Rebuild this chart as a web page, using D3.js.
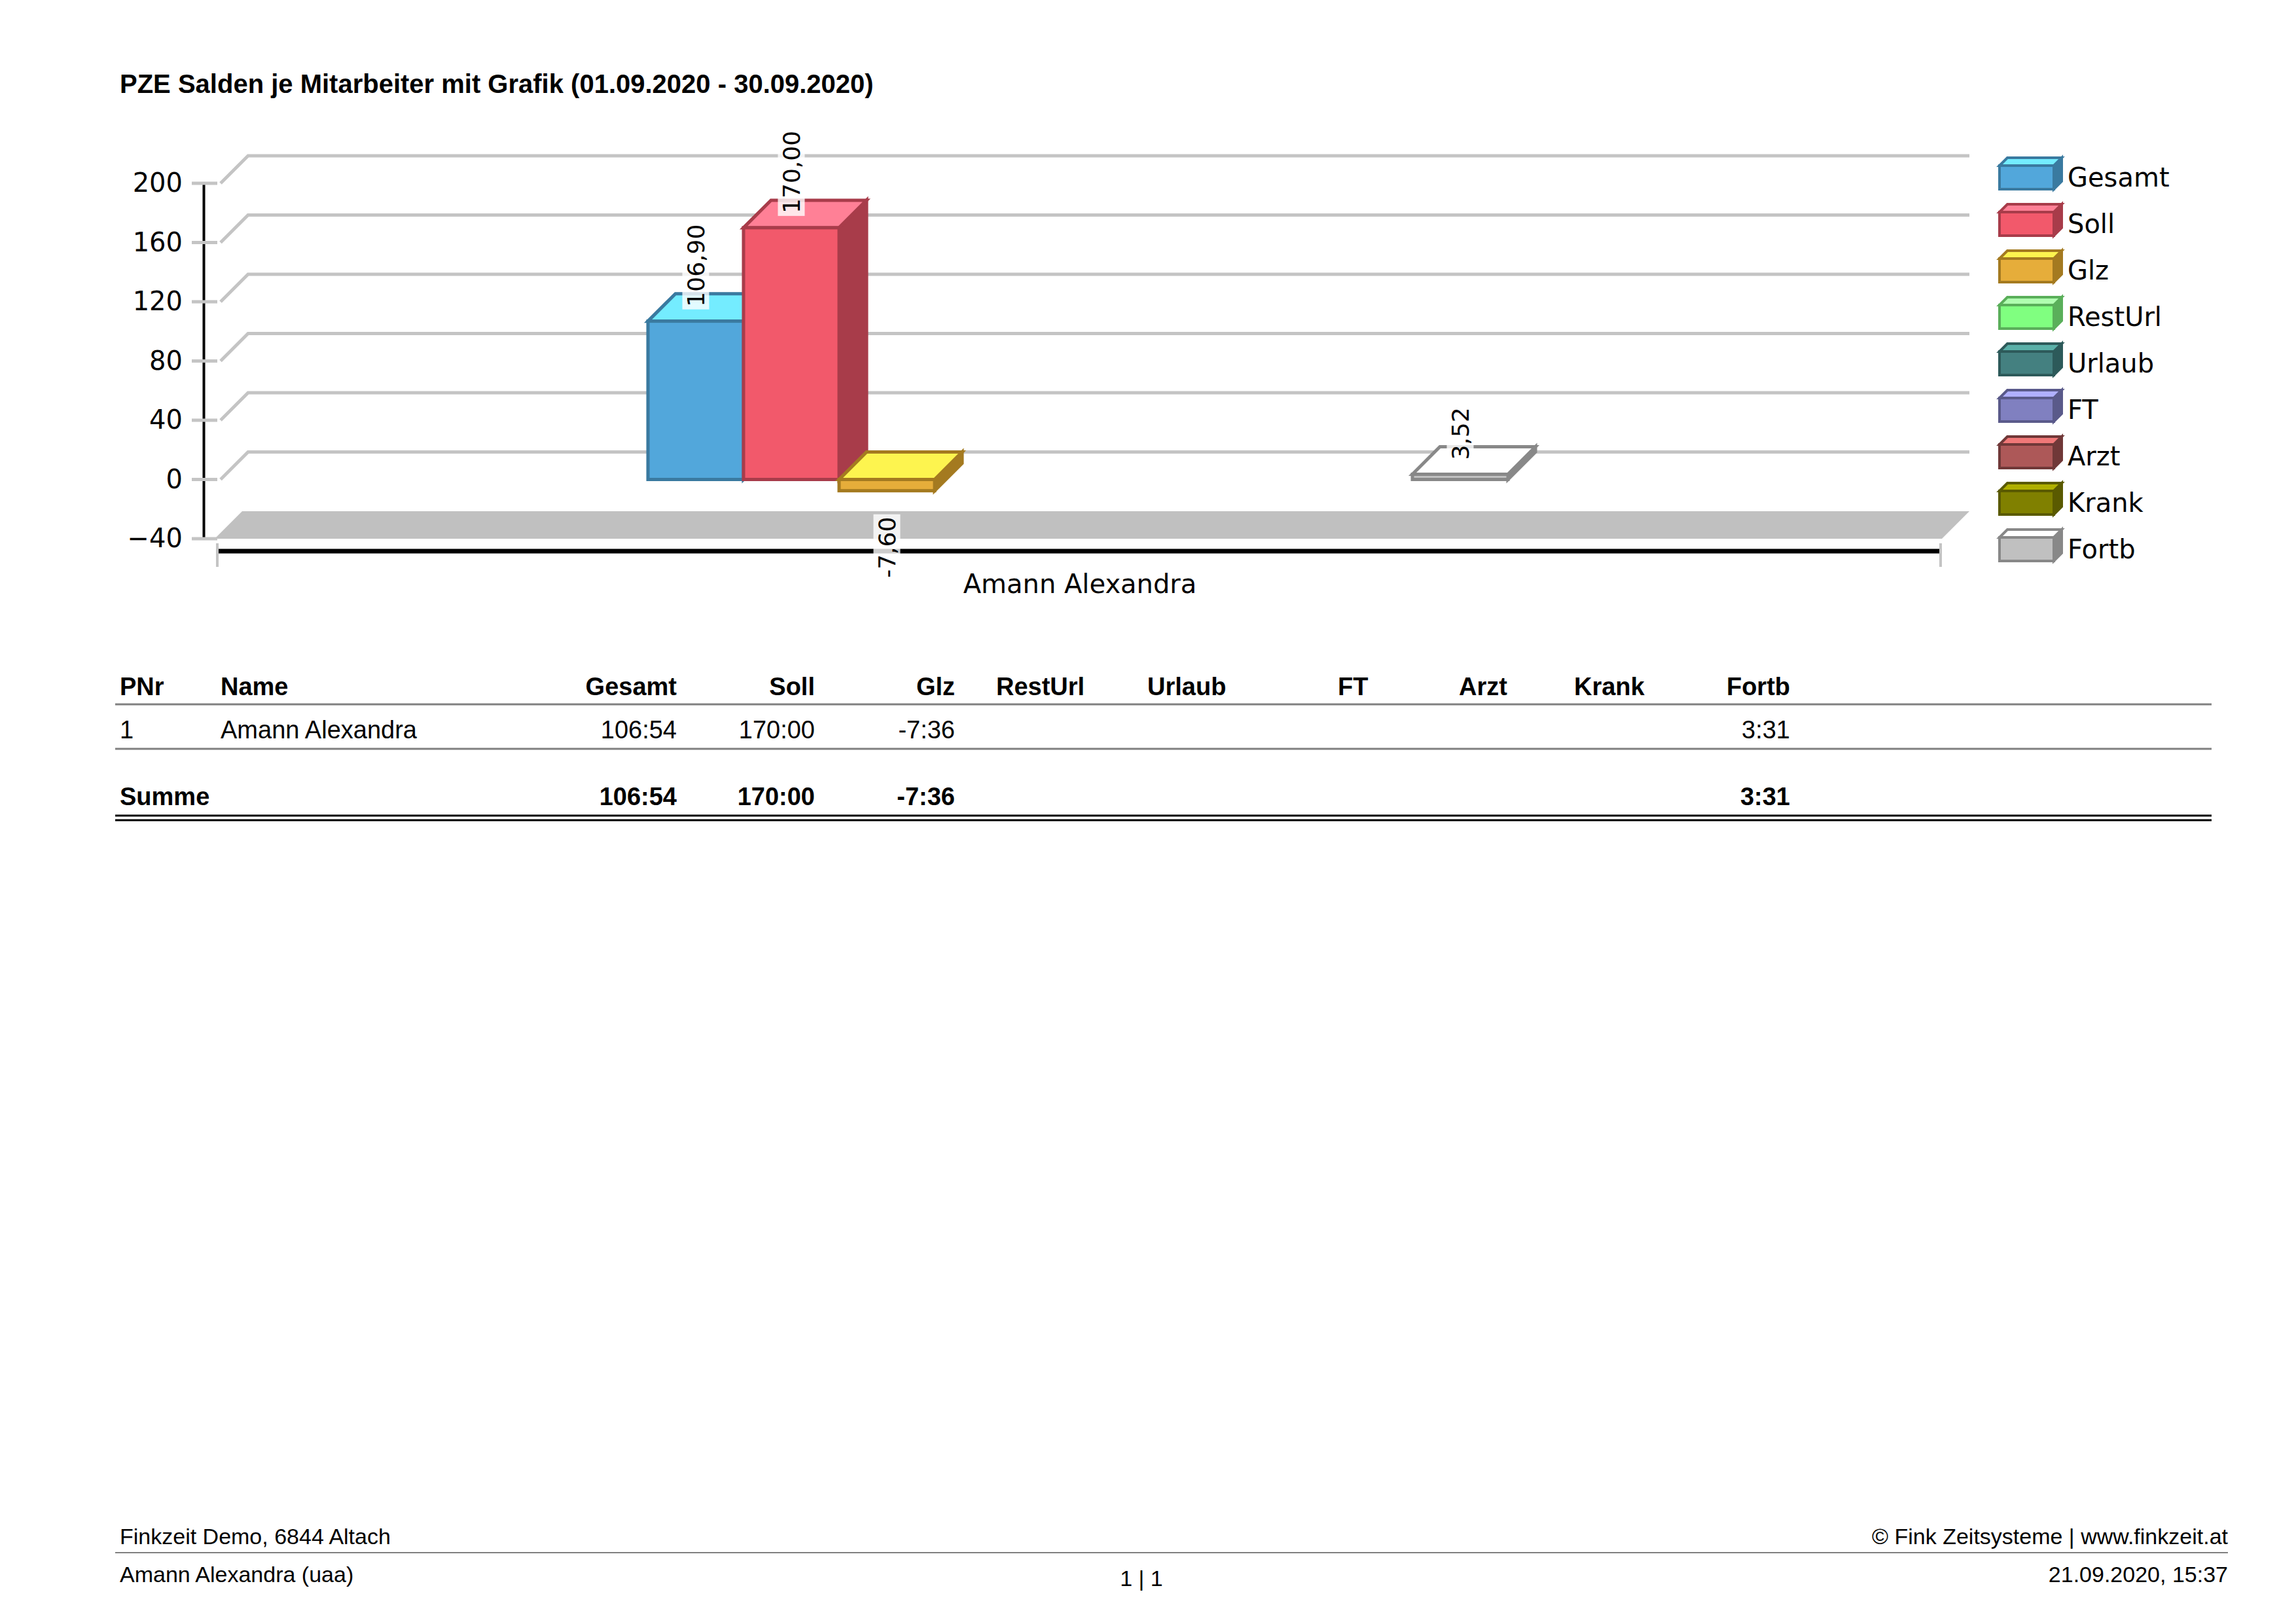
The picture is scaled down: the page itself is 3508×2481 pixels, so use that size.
<!DOCTYPE html>
<html>
<head>
<meta charset="utf-8">
<script src="https://cdn.jsdelivr.net/npm/d3@7"></script>
<style>
  body { margin: 0; background: #fff; }
  svg text { font-family: "Liberation Sans", Arial, sans-serif; }
  .chart text { font-family: "DejaVu Sans", sans-serif; }
</style>
</head>
<body>
<svg id="page" width="3508" height="2481"></svg>
<script>
// Data
var series = ["Gesamt", "Soll", "Glz", "RestUrl", "Urlaub", "FT", "Arzt", "Krank", "Fortb"];
var values = [106.90, 170.00, -7.60, null, null, null, null, null, 3.52];
var yTicks = [-40, 0, 40, 80, 120, 160, 200];
var category = "Amann Alexandra";
var frontColors = ["#52a7db", "#f2596b", "#e6ad3a", "#80ff80", "#448080", "#8080c0", "#ad5858", "#808000", "#c0c0c0"];
var topColors   = ["#74ecff", "#ff8096", "#fdf44f", "#b0ffb0", "#5ab0a8", "#b0b0ff", "#f07878", "#b0b000", "#ffffff"];
var sideColors  = ["#3a7aa0", "#a83c4a", "#a47a20", "#5aaf5a", "#2d5a5a", "#5a5a8a", "#703838", "#5a5a00", "#888888"];

var tableCols = ["PNr", "Name", "Gesamt", "Soll", "Glz", "RestUrl", "Urlaub", "FT", "Arzt", "Krank", "Fortb"];
var tableRow = ["1", "Amann Alexandra", "106:54", "170:00", "-7:36", "", "", "", "", "", "3:31"];
var sumRow = ["Summe", "", "106:54", "170:00", "-7:36", "", "", "", "", "", "3:31"];

var svg = d3.select("#page");
var dx = 42, dy = -42;

// title
svg.append("text").attr("x", 183).attr("y", 142)
  .attr("font-size", 40).attr("font-weight", "bold")
  .text("PZE Salden je Mitarbeiter mit Grafik (01.09.2020 - 30.09.2020)");

var chart = svg.append("g").attr("class", "chart");
var y = d3.scaleLinear().domain([-40, 200]).range([823, 280]);
var xLeft = 332, xRight = 2967;
var x = d3.scaleBand().domain(series).range([990, 990 + 9 * 146]).padding(0);

// floor
chart.append("polygon")
  .attr("points", [[xLeft - 4, y(-40)], [xLeft + dx - 4, y(-40) + dy], [xRight + dx, y(-40) + dy], [xRight, y(-40)]].join(" "))
  .attr("fill", "#c0c0c0");

// grid lines
yTicks.filter(function(t) { return t > -40; }).forEach(function(t) {
  var yy = y(t);
  chart.append("polyline")
    .attr("points", [[337, yy], [337 + dx, yy + dy], [xRight + dx, yy + dy]].join(" "))
    .attr("fill", "none").attr("stroke", "#c4c4c4").attr("stroke-width", 5);
});

// y axis
var axis = chart.append("g").attr("transform", "translate(311,0)")
  .call(d3.axisLeft(y).tickValues(yTicks).tickSize(0).tickPadding(32));
axis.select(".domain").attr("stroke", "#000").attr("stroke-width", 4);
axis.selectAll("text").attr("font-size", 40).attr("fill", "#000")
  .attr("font-family", "DejaVu Sans, sans-serif");
yTicks.forEach(function(t) {
  chart.append("line").attr("x1", 293).attr("x2", 332).attr("y1", y(t)).attr("y2", y(t))
    .attr("stroke", "#c4c4c4").attr("stroke-width", 5);
});

// x axis
chart.append("line").attr("x1", xLeft).attr("x2", xRight).attr("y1", 842).attr("y2", 842)
  .attr("stroke", "#000").attr("stroke-width", 7);
[xLeft, xRight - 2].forEach(function(xx) {
  chart.append("line").attr("x1", xx).attr("x2", xx).attr("y1", 830).attr("y2", 866)
    .attr("stroke", "#c4c4c4").attr("stroke-width", 4);
});
chart.append("text").attr("x", 1650).attr("y", 906).attr("text-anchor", "middle")
  .attr("font-size", 40).text(category);

// bars
function box(g, x0, w, yTop, yBot, i, d, sw) {
  g.append("polygon")
    .attr("points", [[x0 + w, yTop], [x0 + w + d, yTop - d], [x0 + w + d, yBot - d], [x0 + w, yBot]].join(" "))
    .attr("fill", sideColors[i]).attr("stroke", sideColors[i]).attr("stroke-width", sw);
  g.append("polygon")
    .attr("points", [[x0, yTop], [x0 + d, yTop - d], [x0 + w + d, yTop - d], [x0 + w, yTop]].join(" "))
    .attr("fill", topColors[i]).attr("stroke", sideColors[i]).attr("stroke-width", sw);
  g.append("rect").attr("x", x0).attr("y", yTop).attr("width", w).attr("height", Math.max(0, yBot - yTop))
    .attr("fill", frontColors[i]).attr("stroke", sideColors[i]).attr("stroke-width", sw);
}

var bars = chart.append("g");
series.forEach(function(s, i) {
  var v = values[i];
  if (v === null) return;
  var x0 = x(s), w = x.bandwidth();
  var yTop = y(Math.max(v, 0)), yBot = y(Math.min(v, 0));
  if (yBot - yTop < 6) yBot = yTop + 6;
  box(bars, x0, w, yTop, yBot, i, dx, 5);
});

// value labels
series.forEach(function(s, i) {
  var v = values[i];
  if (v === null) return;
  var cx = x(s) + x.bandwidth() / 2;
  var label = v.toFixed(2).replace(".", ",");
  var g = chart.append("g");
  var t = g.append("text").attr("font-size", 36).attr("fill", "#000")
    .attr("text-anchor", v >= 0 ? "start" : "end")
    .attr("dominant-baseline", "central")
    .attr("transform", v >= 0
      ? "translate(" + cx + "," + (y(v) - 22) + ") rotate(-90)"
      : "translate(" + cx + "," + (y(v) + 40) + ") rotate(90) rotate(180)")
    .text(label);
  var bb = t.node().getBBox();
  g.insert("rect", "text")
    .attr("transform", t.attr("transform"))
    .attr("x", bb.x - 4).attr("y", bb.y).attr("width", bb.width + 8).attr("height", bb.height)
    .attr("fill", "#fff").attr("opacity", 0.8);
});

// legend
var legend = chart.append("g");
series.forEach(function(s, i) {
  var ly = 253 + i * 71;
  box(legend, 3055, 83, ly, ly + 36, i, 12, 4);
  legend.append("text").attr("x", 3159).attr("y", ly + 32).attr("font-size", 40).text(s);
});

// table
var colX = [183, 337, 1034, 1245, 1459, 1522, 1753, 2044, 2229, 2405, 2735];
var colAnchor = ["start", "start", "end", "end", "end", "start", "start", "start", "start", "start", "end"];
var tbl = svg.append("g");
function row(cells, yy, bold) {
  cells.forEach(function(c, i) {
    if (!c) return;
    tbl.append("text").attr("x", colX[i]).attr("y", yy).attr("text-anchor", colAnchor[i])
      .attr("font-size", 38).attr("font-weight", bold ? "bold" : "normal").text(c);
  });
}
row(tableCols, 1062, true);
tbl.append("line").attr("x1", 176).attr("x2", 3379).attr("y1", 1076).attr("y2", 1076).attr("stroke", "#808080").attr("stroke-width", 3);
row(tableRow, 1128, false);
tbl.append("line").attr("x1", 176).attr("x2", 3379).attr("y1", 1144).attr("y2", 1144).attr("stroke", "#808080").attr("stroke-width", 3);
row(sumRow, 1230, true);
[1246, 1253].forEach(function(yy) {
  tbl.append("line").attr("x1", 176).attr("x2", 3379).attr("y1", yy).attr("y2", yy).attr("stroke", "#000").attr("stroke-width", 3);
});

// footer
var foot = svg.append("g").attr("font-size", 34);
foot.append("text").attr("x", 183).attr("y", 2372 - 13).attr("font-size", 34).text("Finkzeit Demo, 6844 Altach");
foot.append("text").attr("x", 3404).attr("y", 2359).attr("text-anchor", "end").attr("font-size", 34).text("© Fink Zeitsysteme | www.finkzeit.at");
foot.append("line").attr("x1", 176).attr("x2", 3404).attr("y1", 2372).attr("y2", 2372).attr("stroke", "#808080").attr("stroke-width", 2);
foot.append("text").attr("x", 183).attr("y", 2417).attr("font-size", 34).text("Amann Alexandra (uaa)");
foot.append("text").attr("x", 1744).attr("y", 2423).attr("text-anchor", "middle").attr("font-size", 34).text("1  |  1");
foot.append("text").attr("x", 3404).attr("y", 2417).attr("text-anchor", "end").attr("font-size", 34).text("21.09.2020, 15:37");
</script>
</body>
</html>
